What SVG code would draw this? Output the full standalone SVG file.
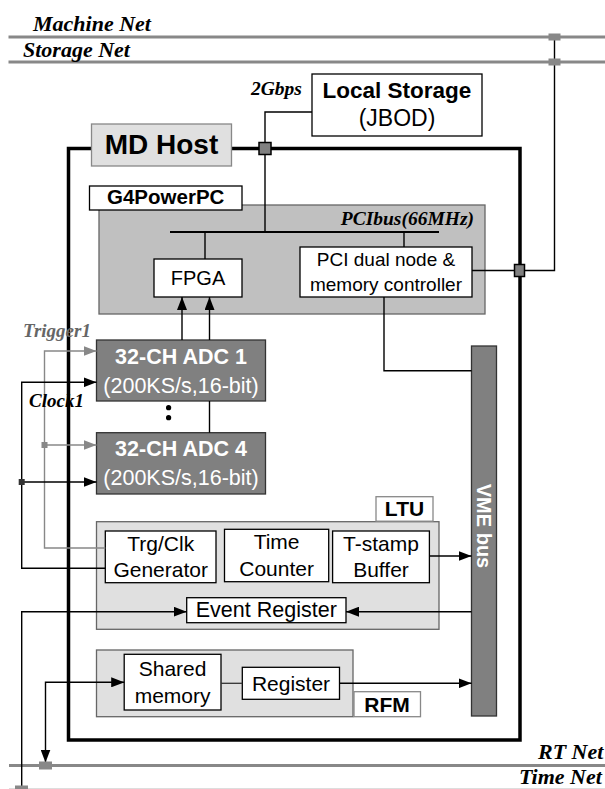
<svg xmlns="http://www.w3.org/2000/svg" width="605" height="789" viewBox="0 0 605 789">
<defs>
<style>
.sans{font-family:"Liberation Sans",Arial,sans-serif;fill:#000}
.b{font-weight:bold}
.serif{font-family:"Liberation Serif","Times New Roman",serif;font-weight:bold;font-style:italic;fill:#000}
.mid{text-anchor:middle}
.net{stroke:#888;stroke-width:3;fill:none}
.jn{fill:#888;stroke:none}
.box{fill:#fff;stroke:#000;stroke-width:1.3}
.lbl{fill:#fff;stroke:#888;stroke-width:1.3}
.area{fill:#e0e0e0;stroke:#666;stroke-width:1.3}
.adc{fill:#808080;stroke:#333;stroke-width:1.3}
.w{fill:#fff}
.ln{stroke:#000;stroke-width:1.4;fill:none}
.gl{stroke:#888;stroke-width:1.4;fill:none}
.sq{fill:#808080;stroke:#000;stroke-width:1.5}
</style>
<marker id="ab" viewBox="0 0 13 10" refX="13" refY="5" markerWidth="13" markerHeight="10" markerUnits="userSpaceOnUse" orient="auto-start-reverse"><path d="M0,0 L13,5 L0,10 z" fill="#000"/></marker>
<marker id="ag" viewBox="0 0 13 10" refX="13" refY="5" markerWidth="13" markerHeight="10" markerUnits="userSpaceOnUse" orient="auto"><path d="M0,0 L13,5 L0,10 z" fill="#888"/></marker>
</defs>

<g id="networks">
<line class="net" x1="8.5" y1="37" x2="605" y2="37"/>
<line class="net" x1="8.5" y1="62" x2="605" y2="62"/>
<line class="net" x1="9" y1="765.5" x2="605" y2="765.5"/>
<line x1="9" y1="789" x2="605" y2="789" stroke="#ddd" stroke-width="2"/>
<text class="serif" x="33" y="30.5" font-size="22">Machine Net</text>
<text class="serif" x="23" y="56.5" font-size="22">Storage Net</text>
<text class="serif" x="538" y="759.3" font-size="22">RT Net</text>
<text class="serif" x="519" y="783.5" font-size="22">Time Net</text>
</g>

<g id="md-frame">
<rect x="68.5" y="148.5" width="451.5" height="591.5" fill="none" stroke="#000" stroke-width="3.5"/>
</g>

<g id="md-host">
<rect x="91.5" y="124" width="140" height="42" fill="#e0e0e0" stroke="#888" stroke-width="1.3"/>
<text class="sans b mid" x="161.5" y="153.5" font-size="28">MD Host</text>
</g>

<g id="local-storage">
<rect class="box" x="312" y="74" width="170" height="62"/>
<text class="sans b mid" x="397" y="97.5" font-size="22.5">Local Storage</text>
<text class="sans mid" x="397" y="125.5" font-size="23">(JBOD)</text>
</g>

<g id="pci-area">
<rect x="99" y="205" width="386" height="109" fill="#c0c0c0" stroke="#666" stroke-width="1.3"/>
<text class="serif" x="474" y="225" font-size="19.5" text-anchor="end">PCIbus(66MHz)</text>
</g>

<g id="g4powerpc">
<rect class="box" x="89.5" y="186" width="152.5" height="24"/>
<text class="sans b mid" x="165.7" y="204" font-size="20.5">G4PowerPC</text>
</g>

<g id="fpga">
<rect class="box" x="154" y="259" width="88" height="38"/>
<text class="sans mid" x="198" y="285" font-size="20">FPGA</text>
</g>

<g id="pci-dual">
<rect class="box" x="300" y="247" width="172" height="50"/>
<text class="sans mid" x="386" y="265.5" font-size="19">PCI dual node &amp;</text>
<text class="sans mid" x="386" y="290.5" font-size="19">memory controller</text>
</g>

<g id="adc1">
<rect class="adc" x="96.5" y="340" width="169" height="61"/>
<text class="sans b mid w" x="181" y="363.5" font-size="21.5">32-CH ADC 1</text>
<text class="sans mid w" x="181" y="392.5" font-size="21.5">(200KS/s,16-bit)</text>
</g>

<g id="adc4">
<rect class="adc" x="96.5" y="432.7" width="169" height="61.3"/>
<text class="sans b mid w" x="181" y="456" font-size="21.5">32-CH ADC 4</text>
<text class="sans mid w" x="181" y="484.5" font-size="21.5">(200KS/s,16-bit)</text>
</g>

<g id="vme-bus">
<rect x="471.5" y="346" width="25" height="370" fill="#808080" stroke="#333" stroke-width="1.3"/>
<text class="sans b mid w" font-size="20" transform="translate(477,526) rotate(90)">VME bus</text>
</g>

<g id="ltu">
<rect class="area" x="96.5" y="521.7" width="342.5" height="107.6"/>
<rect class="lbl" x="376" y="496.7" width="57" height="24.5"/>
<text class="sans b mid" x="404.5" y="516" font-size="21">LTU</text>
</g>

<g id="trg-clk-generator">
<rect class="box" x="105.3" y="531" width="110.7" height="51.7"/>
<text class="sans mid" x="160.7" y="551" font-size="21">Trg/Clk</text>
<text class="sans mid" x="160.7" y="576.5" font-size="21">Generator</text>
</g>

<g id="time-counter">
<rect class="box" x="224.5" y="529.3" width="104.2" height="52.4"/>
<text class="sans mid" x="276.6" y="549" font-size="21">Time</text>
<text class="sans mid" x="276.6" y="575.5" font-size="21">Counter</text>
</g>

<g id="t-stamp-buffer">
<rect class="box" x="332.6" y="531" width="96.8" height="51.7"/>
<text class="sans mid" x="381" y="551" font-size="21">T-stamp</text>
<text class="sans mid" x="381" y="576.5" font-size="21">Buffer</text>
</g>

<g id="event-register">
<rect class="box" x="186.7" y="597.7" width="159.3" height="25"/>
<text class="sans mid" x="266.3" y="616.5" font-size="21.5">Event Register</text>
</g>

<g id="rfm">
<rect class="area" x="96.5" y="650" width="256.5" height="66.7"/>
<rect class="lbl" x="354" y="691.7" width="66.5" height="25"/>
<text class="sans b mid" x="387" y="712" font-size="21">RFM</text>
</g>

<g id="shared-memory">
<rect class="box" x="124.2" y="654.3" width="96.8" height="55.7"/>
<text class="sans mid" x="172.6" y="676" font-size="21">Shared</text>
<text class="sans mid" x="172.6" y="702.5" font-size="21">memory</text>
</g>

<g id="register">
<rect class="box" x="242.3" y="667.3" width="97.2" height="32"/>
<text class="sans mid" x="291" y="691" font-size="21">Register</text>
</g>

<g id="connectors">
<path class="ln" d="M554.5,37 V270.5 H472" stroke-width="1.8"/>
<rect class="jn" x="548.5" y="33.5" width="12" height="7"/>
<rect class="jn" x="548.5" y="58.5" width="12" height="7"/>
<rect class="sq" x="514.5" y="264.5" width="10" height="12"/>
<path class="ln" d="M312,112 H265 V232" stroke-width="1.6"/>
<rect class="sq" x="259" y="142.5" width="12" height="12"/>
<text class="serif" x="251" y="95" font-size="19.5">2Gbps</text>
<line x1="170" y1="232" x2="439" y2="232" stroke="#000" stroke-width="2.2"/>
<line class="ln" x1="205" y1="232" x2="205" y2="259"/>
<line class="ln" x1="404" y1="232" x2="404" y2="247"/>
<path class="ln" d="M384,297 V370.7 H471.5"/>
<line class="ln" x1="182" y1="340" x2="182" y2="297" marker-end="url(#ab)"/>
<line class="ln" x1="209.5" y1="340" x2="209.5" y2="297" marker-end="url(#ab)"/>
<line class="ln" x1="209.5" y1="401" x2="209.5" y2="432.7"/>
<circle cx="168.6" cy="407.7" r="2.6"/>
<circle cx="168.6" cy="417.7" r="2.6"/>
<path class="gl" d="M105.3,548 H44.5 V351 H96.5" marker-end="url(#ag)"/>
<line class="gl" x1="44.5" y1="445" x2="96.5" y2="445" marker-end="url(#ag)"/>
<rect class="jn" x="41.5" y="442" width="6" height="6"/>
<text class="serif" x="23" y="337" font-size="19" style="fill:#666">Trigger1</text>
<path class="ln" d="M105.3,568.3 H21.7 V382.3 H96.5" marker-end="url(#ab)"/>
<line class="ln" x1="21.7" y1="482" x2="96.5" y2="482" marker-end="url(#ab)"/>
<rect x="18.7" y="479" width="6" height="6" fill="#333"/>
<text class="serif" x="29" y="407.3" font-size="19">Clock1</text>
<line class="ln" x1="429.4" y1="556" x2="471.5" y2="556" marker-end="url(#ab)"/>
<line class="ln" x1="471.5" y1="611.7" x2="346" y2="611.7" marker-end="url(#ab)"/>
<path class="ln" d="M21.7,787 V611.7 H186.7" marker-end="url(#ab)"/>
<rect class="jn" x="15" y="785.5" width="13" height="4"/>
<line x1="221" y1="683.3" x2="242.3" y2="683.3" stroke="#333" stroke-width="1.3"/>
<line class="ln" x1="339.5" y1="683.3" x2="471.5" y2="683.3" marker-end="url(#ab)"/>
<path class="ln" d="M45.5,762.5 V682.3 H124.2" marker-start="url(#ab)" marker-end="url(#ab)"/>
<rect class="jn" x="39" y="761.5" width="13" height="8"/>
</g>
</svg>
